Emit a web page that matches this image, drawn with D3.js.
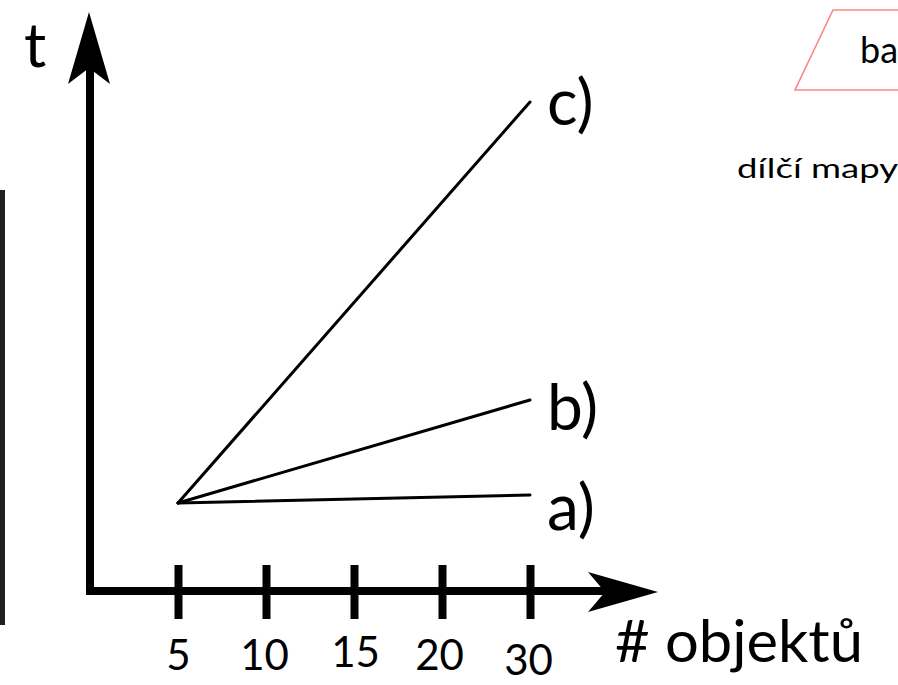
<!DOCTYPE html>
<html>
<head>
<meta charset="utf-8">
<script src="https://cdn.jsdelivr.net/npm/d3@7/dist/d3.min.js"></script>
<style>
  html, body { margin: 0; padding: 0; background: #fff; }
  svg { display: block; }
  text { font-family: Lato, "Open Sans", sans-serif; fill: #000; }
</style>
</head>
<body>
<svg id="chart" width="898" height="685"></svg>
<script>
// Object counts on the x axis (equally spaced categories)
const categories = ["5", "10", "15", "20", "30"];
// Each series runs from the first to the last object count
const seriesX = ["5", "30"];
const seriesNames = ["a)", "b)", "c)"];
const seriesStart = [17.6, 17.6, 17.6];
const seriesEnd = [19.2, 38.2, 97.8];
const xTitle = "# objektů";
const yTitle = "t";

const svg = d3.select("#chart");

const x = d3.scalePoint().domain(categories).range([178, 530]);
const y = d3.scaleLinear().domain([0, 100]).range([591, 91]);

const x0 = 90, y0 = y(0);

// Side fragments around the diagram
svg.append("rect").attr("x", 0).attr("y", 190).attr("width", 5).attr("height", 435)
  .attr("fill", "#231f20");
svg.append("path").attr("d", "M905,10 H833 L795,90 H905")
  .attr("fill", "none").attr("stroke", "#ff8585").attr("stroke-width", 1.6);
svg.append("text").attr("x", 860).attr("y", 63).attr("font-size", 36).text("ba");
svg.append("text").attr("x", 737).attr("y", 178).attr("font-size", 26)
  .attr("textLength", 161).attr("lengthAdjust", "spacingAndGlyphs").text("dílčí mapy");

// Axes: thick L-shaped frame with arrowheads
svg.append("path")
  .attr("d", `M${x0},68 V${y0} H605`)
  .attr("fill", "none").attr("stroke", "#000").attr("stroke-width", 8)
  .attr("stroke-linejoin", "miter");
svg.append("path").attr("d", `M89,12 L110,84 L89,68 L68,84 Z`).attr("fill", "#000");
svg.append("path").attr("d", `M658,592 L588,612 L605,592 L588,572 Z`).attr("fill", "#000");

// Tick marks and labels from the point scale
const axis = svg.append("g").attr("transform", `translate(0,${y0})`)
  .call(d3.axisBottom(x).tickSizeOuter(0));
axis.select(".domain").remove();
axis.selectAll(".tick line")
  .attr("y1", -26).attr("y2", 28)
  .attr("stroke", "#000").attr("stroke-width", 8);
const labelShift = { "5": [0, 0], "10": [-2, 0], "15": [1, -3], "20": [-3, 0], "30": [-2, 5] };
axis.selectAll(".tick text")
  .attr("dy", null)
  .attr("y", 79)
  .attr("font-size", 42)
  .attr("font-family", "Lato, 'Open Sans', sans-serif")
  .attr("fill", "#000")
  .attr("transform", d => `translate(${labelShift[d][0]},${labelShift[d][1]})`);

// Axis titles
svg.append("text").attr("x", 24).attr("y", 67).attr("font-size", 62).text(yTitle);
svg.append("text").attr("x", 615).attr("y", 662).attr("font-size", 58)
  .attr("textLength", 248).attr("lengthAdjust", "spacingAndGlyphs").text(xTitle);

// Series lines and their end labels
const line = d3.line().x(d => x(d[0])).y(d => y(d[1]));
const labelBase = [530, 430, 125];
seriesNames.forEach((name, i) => {
  const pts = [[seriesX[0], seriesStart[i]], [seriesX[1], seriesEnd[i]]];
  svg.append("path").attr("d", line(pts))
    .attr("fill", "none").attr("stroke", "#000").attr("stroke-width", 3)
    .attr("stroke-linecap", "round");
  svg.append("text").attr("x", 547).attr("y", labelBase[i])
    .attr("font-size", 64).text(name);
});
</script>
</body>
</html>
